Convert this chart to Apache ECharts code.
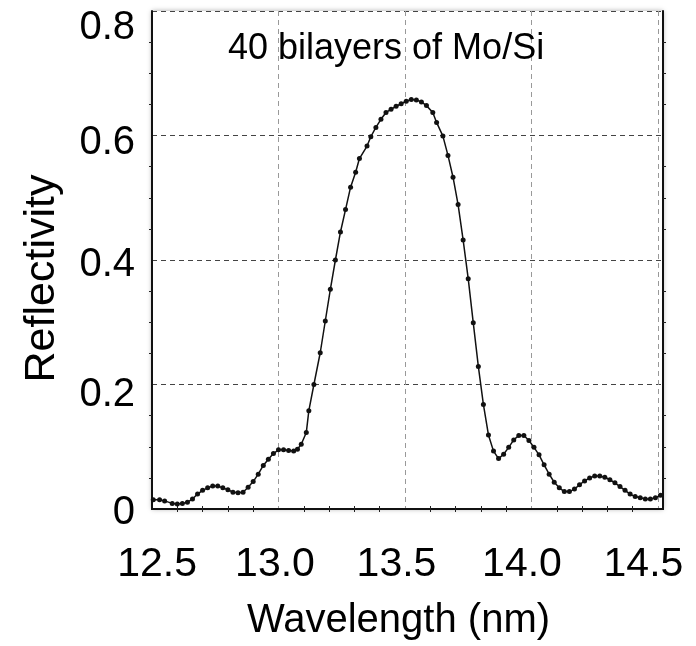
<!DOCTYPE html>
<html>
<head>
<meta charset="utf-8">
<script src="https://cdn.jsdelivr.net/npm/echarts@6/dist/echarts.min.js"></script>
<style>html,body{margin:0;padding:0;background:#fff}#c{width:696px;height:646px}</style>
</head>
<body>
<div id="c"></div>
<script>
// Data
var wavelength = [12.495,12.52,12.54,12.57,12.59,12.61,12.63,12.65,12.67,12.69,12.71,12.73,12.75,12.77,12.79,12.81,12.83,12.85,12.87,12.89,12.91,12.93,12.95,12.97,12.99,13.01,13.03,13.05,13.065,13.08,13.10,13.11,13.13,13.155,13.175,13.195,13.215,13.235,13.255,13.275,13.295,13.31,13.34,13.355,13.375,13.395,13.415,13.435,13.455,13.475,13.495,13.515,13.535,13.555,13.575,13.60,13.615,13.64,13.66,13.68,13.70,13.72,13.74,13.76,13.78,13.80,13.82,13.84,13.86,13.88,13.90,13.92,13.94,13.96,13.98,14.00,14.02,14.04,14.06,14.08,14.10,14.12,14.14,14.16,14.18,14.20,14.22,14.24,14.26,14.28,14.30,14.32,14.34,14.36,14.38,14.40,14.42,14.44,14.46,14.48,14.50];
var reflectivity = [0.015,0.015,0.013,0.009,0.008,0.009,0.011,0.016,0.024,0.030,0.034,0.037,0.037,0.034,0.031,0.027,0.026,0.027,0.035,0.044,0.056,0.070,0.080,0.089,0.095,0.095,0.094,0.093,0.096,0.104,0.123,0.158,0.200,0.251,0.302,0.353,0.400,0.445,0.481,0.517,0.541,0.563,0.583,0.598,0.613,0.626,0.637,0.642,0.647,0.651,0.655,0.658,0.657,0.654,0.648,0.637,0.621,0.599,0.568,0.533,0.489,0.432,0.370,0.299,0.229,0.168,0.119,0.093,0.081,0.088,0.099,0.111,0.118,0.118,0.110,0.099,0.087,0.071,0.056,0.043,0.034,0.028,0.028,0.032,0.039,0.045,0.050,0.053,0.053,0.051,0.047,0.042,0.036,0.030,0.024,0.020,0.018,0.016,0.016,0.018,0.022];
var xTickLabels = ['12.5','13.0','13.5','14.0','14.5'];
var yTickLabels = ['0','0.2','0.4','0.6','0.8'];
var xTitle = 'Wavelength (nm)';
var yTitle = 'Reflectivity';
var annotation = '40 bilayers of Mo/Si';

var FONT = '"Liberation Sans", Arial, sans-serif';
// per-label padding (style only), reproducing the slight label offsets of the original figure
var xLabelPad = [[0, 0, 0, 5], [0, 12, 0, 0], [0, 22, 0, 0], [0, 24, 0, 0], [0, 34, 0, 0]];
var yLabelPad = [[8, 0, 0, 0], [20, 0, 0, 0], [10, 0, 0, 0], [15, 0, 0, 0], [34, 0, 0, 0]];

var chart = echarts.init(document.getElementById('c'), null, {renderer: 'canvas'});
var seriesData = wavelength.map(function (w, i) { return [w, reflectivity[i]]; });

var xRich = {};
xTickLabels.forEach(function (t, i) {
  xRich['l' + i] = {fontSize: 41, fontFamily: FONT, color: '#000', padding: xLabelPad[i]};
});
var yRich = {};
yTickLabels.forEach(function (t, i) {
  yRich['l' + i] = {fontSize: 40, fontFamily: FONT, color: '#000', padding: yLabelPad[i]};
});
function xFmt(v) {
  var s = v.toFixed(1);
  var i = xTickLabels.indexOf(s);
  return i >= 0 ? '{l' + i + '|' + s + '}' : '';
}
function yFmt(v) {
  var s = (Math.abs(v) < 1e-9) ? '0' : v.toFixed(1);
  var i = yTickLabels.indexOf(s);
  return i >= 0 ? '{l' + i + '|' + s + '}' : '';
}

var frameLine = {show: true, lineStyle: {color: '#111', width: 2}};

chart.setOption({
  backgroundColor: '#fff',
  animation: false,
  grid: {
    left: 152, top: 11, right: 33, bottom: 134,
    show: true, backgroundColor: '#fff', borderWidth: 0,
    shadowColor: 'rgba(0,0,0,0.35)', shadowBlur: 5
  },
  graphic: [{
    type: 'text', left: 228, top: 31, z: 10,
    style: {text: annotation, fill: '#000', font: '36px ' + FONT}
  }],
  xAxis: [{
    type: 'value', min: 12.49, max: 14.51, interval: 0.5,
    position: 'bottom',
    axisLine: frameLine,
    axisTick: {show: false},
    minorTick: {show: true, splitNumber: 5, length: 3, lineStyle: {color: '#222', width: 1}},
    axisLabel: {
      formatter: xFmt, rich: xRich, color: '#000', fontSize: 41, fontFamily: FONT, margin: 35,
      customValues: [12.5, 13.0, 13.5, 14.0, 14.5]
    },
    splitLine: {show: true, lineStyle: {color: '#999', type: [5, 4], width: 1}},
    name: xTitle, nameLocation: 'middle', nameGap: 92,
    nameTextStyle: {color: '#000', fontSize: 40, fontFamily: FONT, padding: [0, 18, 0, 0]}
  }, {
    type: 'value', min: 12.49, max: 14.51, interval: 0.5,
    position: 'top',
    axisLine: frameLine,
    axisTick: {show: false},
    minorTick: {show: true, splitNumber: 5, length: 3, lineStyle: {color: '#222', width: 1}},
    axisLabel: {show: false},
    splitLine: {show: false}
  }],
  yAxis: [{
    type: 'value', min: 0, max: 0.8, interval: 0.2,
    position: 'left',
    axisLine: frameLine,
    axisTick: {show: false},
    minorTick: {show: true, splitNumber: 4, length: 3, lineStyle: {color: '#222', width: 1}},
    axisLabel: {
      formatter: yFmt, rich: yRich, color: '#000', fontSize: 40, fontFamily: FONT, margin: 17
    },
    splitLine: {show: true, lineStyle: {color: '#444', type: [5, 4], width: 1}},
    name: yTitle, nameLocation: 'middle', nameGap: 88,
    nameTextStyle: {color: '#000', fontSize: 43, fontFamily: FONT, padding: [0, 37, 0, 0]}
  }, {
    type: 'value', min: 0, max: 0.8, interval: 0.2,
    position: 'right',
    axisLine: frameLine,
    axisTick: {show: false},
    minorTick: {show: true, splitNumber: 4, length: 3, lineStyle: {color: '#222', width: 1}},
    axisLabel: {show: false},
    splitLine: {show: false}
  }],
  series: [{
    type: 'line',
    xAxisIndex: 0, yAxisIndex: 0,
    data: seriesData,
    symbol: 'circle', symbolSize: 5, showSymbol: true,
    itemStyle: {color: '#111'},
    lineStyle: {color: '#111', width: 1.5},
    z: 5
  }]
});
</script>
</body>
</html>
